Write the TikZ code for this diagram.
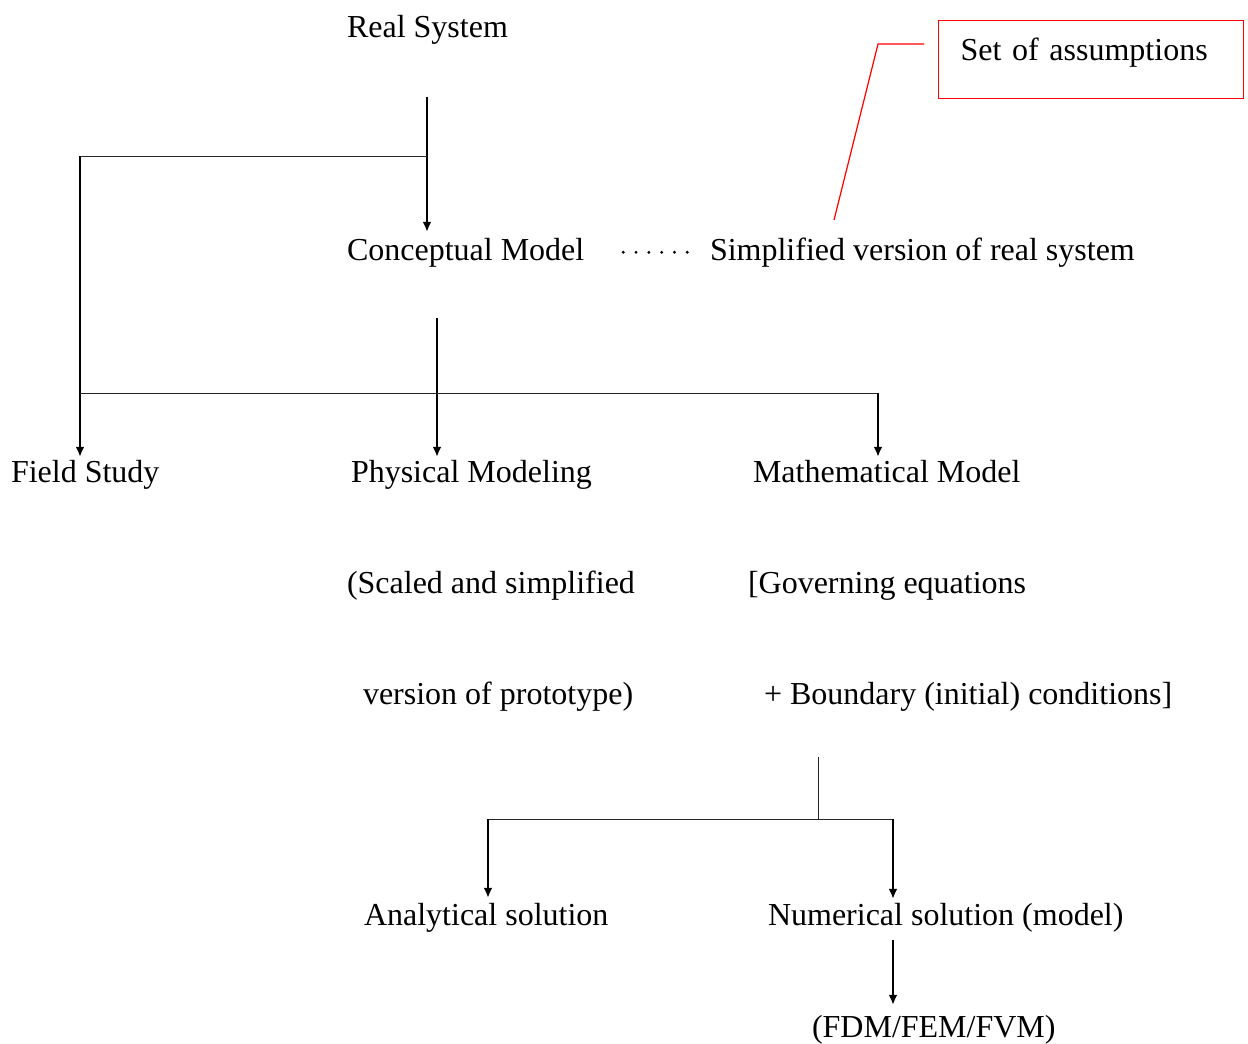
\documentclass[tikz,border=0pt]{standalone}
\usepackage{fontspec}
\setmainfont{Liberation Serif}
\usetikzlibrary{arrows.meta,calc}
\begin{document}
\begin{tikzpicture}[x=0.5pt,y=-0.5pt,
  txt/.style={anchor=base west, inner sep=0pt, outer sep=0pt, font=\fontsize{16}{19}\selectfont},
  arr/.style={line width=1pt, -{Latex[length=5pt,width=4.5pt]}},
  thinline/.style={line width=0.5pt, draw=black!85},
  redline/.style={draw=red, line width=0.6pt},
  dotline/.style={line width=1.6pt, line cap=round, dash pattern=on 0pt off 6.4pt},
]
\useasboundingbox (0,0) rectangle (1248,1044);

% text nodes
\node[txt] (rs) at (347,38) {Real System};
\node[txt] (cm) at (347,260) {Conceptual Model};
\node[txt] (sv) at (710,260) {Simplified version of real system};
\node[txt] (fs) at (11,482) {Field Study};
\node[txt] (pm) at (351,482) {Physical Modeling};
\node[txt] (mm) at (753,482) {Mathematical Model};
\node[txt] (pm1) at (347,593) {(Scaled and simplified};
\node[txt] (pm2) at (363,704) {version of prototype)};
\node[txt] (mm1) at (748,593) {[Governing equations};
\node[txt] (mm2) at (764,704) {+ Boundary (initial) conditions]};
\node[txt] (an) at (364,925) {Analytical solution};
\node[txt] (nu) at (768,925) {Numerical solution (model)};
\node[txt] (fdm) at (812,1037) {(FDM/FEM/FVM)};

% assumptions box
\node[draw=red, line width=0.6pt, anchor=north west, minimum width=152.5pt,
      minimum height=39pt, inner ysep=0pt, inner xsep=11pt, text height=11pt,
      text depth=10pt, text width=130.5pt, align=left,
      font=\fontsize{16}{19}\selectfont] (sa) at (938,20) {\mbox{Set of assumptions}};

% callout line
\coordinate (rbend) at (878,44);
\coordinate (rend) at (834,220);
\draw[redline] ($(sa.north west)+(-14,24)$) -- (rbend) -- (rend);

% dotted link
\draw[dotline] ($(cm.east)+(39,0)$) -- ++(65,0);

% connectors
\coordinate (rsout) at (427,97);
\coordinate (j1) at (427,156);
\coordinate (j2) at (80,156);
\draw[arr, shorten >=3pt] (rsout) -- (rsout |- cm.north);
\draw[thinline] (j1) -- (j2);
\draw[arr, shorten >=1.5pt] (j2) -- (j2 |- fs.north);

\coordinate (cmout) at (437,318);
\draw[arr, shorten >=1.5pt] (cmout) -- (cmout |- pm.north);
\coordinate (j3) at (80,393);
\coordinate (j4) at (878,393);
\draw[thinline] (j3) -- (j4);
\draw[arr, shorten >=1.5pt] (j4) -- (j4 |- mm.north);

\coordinate (mmout) at (818,757);
\coordinate (j5) at (818,819);
\coordinate (j6) at (488,819);
\coordinate (j7) at (893,819);
\draw[thinline] (mmout) -- (j5);
\draw[thinline] (j6) -- (j7);
\draw[arr, shorten >=2.5pt] (j6) -- (j6 |- an.north);
\draw[arr, shorten >=2pt] (j7) -- (j7 |- nu.north);

\coordinate (nuout) at (893,940);
\draw[arr, shorten >=5pt] (nuout) -- (nuout |- fdm.north);
\end{tikzpicture}
\end{document}
